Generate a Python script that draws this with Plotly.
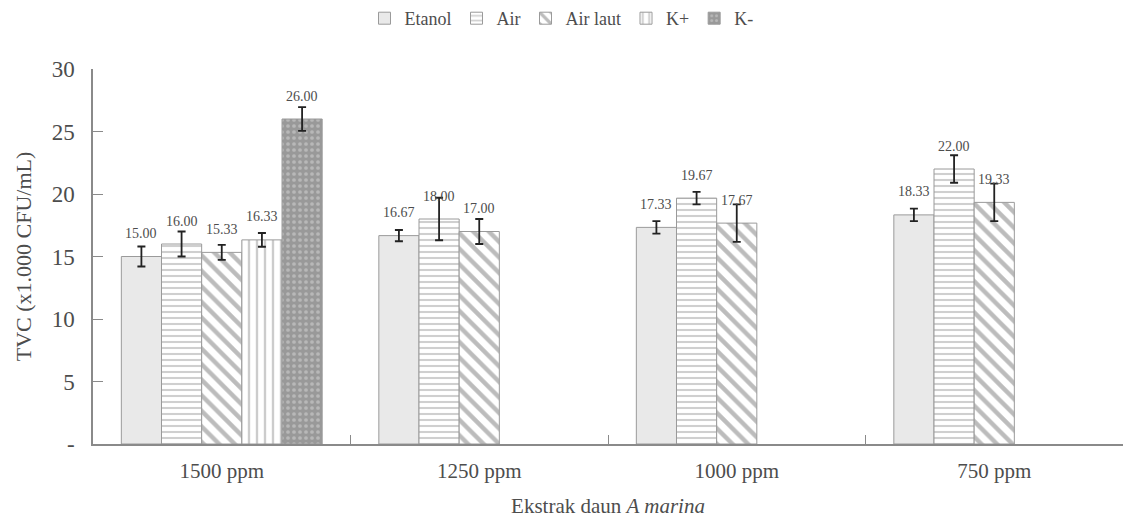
import plotly.graph_objects as go

categories = ["1500 ppm", "1250 ppm", "1000 ppm", "750 ppm"]
series_names = ["Etanol", "Air", "Air laut", "K+", "K-"]

etanol = [15.00, 16.67, 17.33, 18.33]
air = [16.00, 18.00, 19.67, 22.00]
air_laut = [15.33, 17.00, 17.67, 19.33]
k_plus = [16.33, None, None, None]
k_minus = [26.00, None, None, None]

etanol_err = [0.8, 0.45, 0.5, 0.5]
air_err = [1.0, 1.7, 0.5, 1.1]
air_laut_err = [0.6, 1.0, 1.5, 1.5]
k_plus_err = [0.55, None, None, None]
k_minus_err = [0.95, None, None, None]

y_tickvals = [0, 5, 10, 15, 20, 25, 30]
y_ticktext = ["-", "5", "10", "15", "20", "25", "30"]

values = [etanol, air, air_laut, k_plus, k_minus]
errors = [etanol_err, air_err, air_laut_err, k_plus_err, k_minus_err]

patterns = [
    dict(shape="", bgcolor="#e9e9e9", fgcolor="#e9e9e9"),
    dict(shape="-", bgcolor="#ffffff", fgcolor="#a0a0a0", size=6, solidity=0.35),
    dict(shape="\\", bgcolor="#ffffff", fgcolor="#7a7a7a", size=11, solidity=0.4),
    dict(shape="|", bgcolor="#ffffff", fgcolor="#9a9a9a", size=8, solidity=0.3),
    dict(shape=".", bgcolor="#999999", fgcolor="#d8d8d8", size=6, solidity=0.3),
]
fill_colors = ["#e9e9e9", "#ffffff", "#ffffff", "#ffffff", "#999999"]

font_family = "Liberation Serif, Times New Roman, serif"
text_color = "#4d4d4d"
bargap = 0.22

fig = go.Figure()
for k, (name, vals, errs) in enumerate(zip(series_names, values, errors)):
    fig.add_trace(go.Bar(
        name=name,
        x=categories,
        y=vals,
        marker=dict(color=fill_colors[k], pattern=patterns[k],
                    line=dict(color="#9a9a9a", width=1)),
        error_y=dict(type="data", array=[e if e is not None else 0 for e in errs],
                     visible=True, color="#222222", thickness=1.8, width=4),
    ))

# data labels
n = len(series_names)
w = (1 - bargap) / n
annotations = []
for k, vals in enumerate(values):
    for i, v in enumerate(vals):
        if v is None:
            continue
        annotations.append(dict(
            x=i + (k - (n - 1) / 2) * w, y=v, xref="x", yref="y",
            text=f"{v:.2f}", showarrow=False, yshift=23,
            font=dict(family=font_family, size=14, color=text_color),
        ))

fig.update_layout(
    width=1123, height=524,
    margin=dict(l=93, r=0, t=69, b=80),
    paper_bgcolor="white", plot_bgcolor="white",
    barmode="group", bargap=bargap, bargroupgap=0,
    font=dict(family=font_family, size=20, color=text_color),
    showlegend=True,
    legend=dict(orientation="h", x=0.5, xanchor="center", xref="container",
                y=1.0, yref="container", yanchor="top",
                font=dict(family=font_family, size=18, color=text_color),
                itemwidth=30, tracegroupgap=0),
    annotations=annotations,
    xaxis=dict(
        type="category", categoryorder="array", categoryarray=categories,
        showline=True, linecolor="#8a8a8a", linewidth=1.5,
        ticks="inside", tickson="boundaries", ticklen=9, tickcolor="#8a8a8a",
        ticklabelstandoff=7,
        tickfont=dict(family=font_family, size=21, color=text_color),
        title=dict(text="Ekstrak daun <i>A marina</i>",
                   font=dict(family=font_family, size=21, color=text_color),
                   standoff=16),
        showgrid=False, zeroline=False,
    ),
    yaxis=dict(
        range=[0, 30], tickvals=y_tickvals, ticktext=y_ticktext,
        showline=True, linecolor="#8a8a8a", linewidth=1.5,
        ticks="inside", ticklen=10, tickcolor="#8a8a8a",
        ticklabelstandoff=12,
        tickfont=dict(family=font_family, size=23, color=text_color),
        title=dict(text="TVC (x1.000 CFU/mL)",
                   font=dict(family=font_family, size=22, color=text_color),
                   standoff=14),
        showgrid=False, zeroline=False,
    ),
)

fig.write_html("out.html")
